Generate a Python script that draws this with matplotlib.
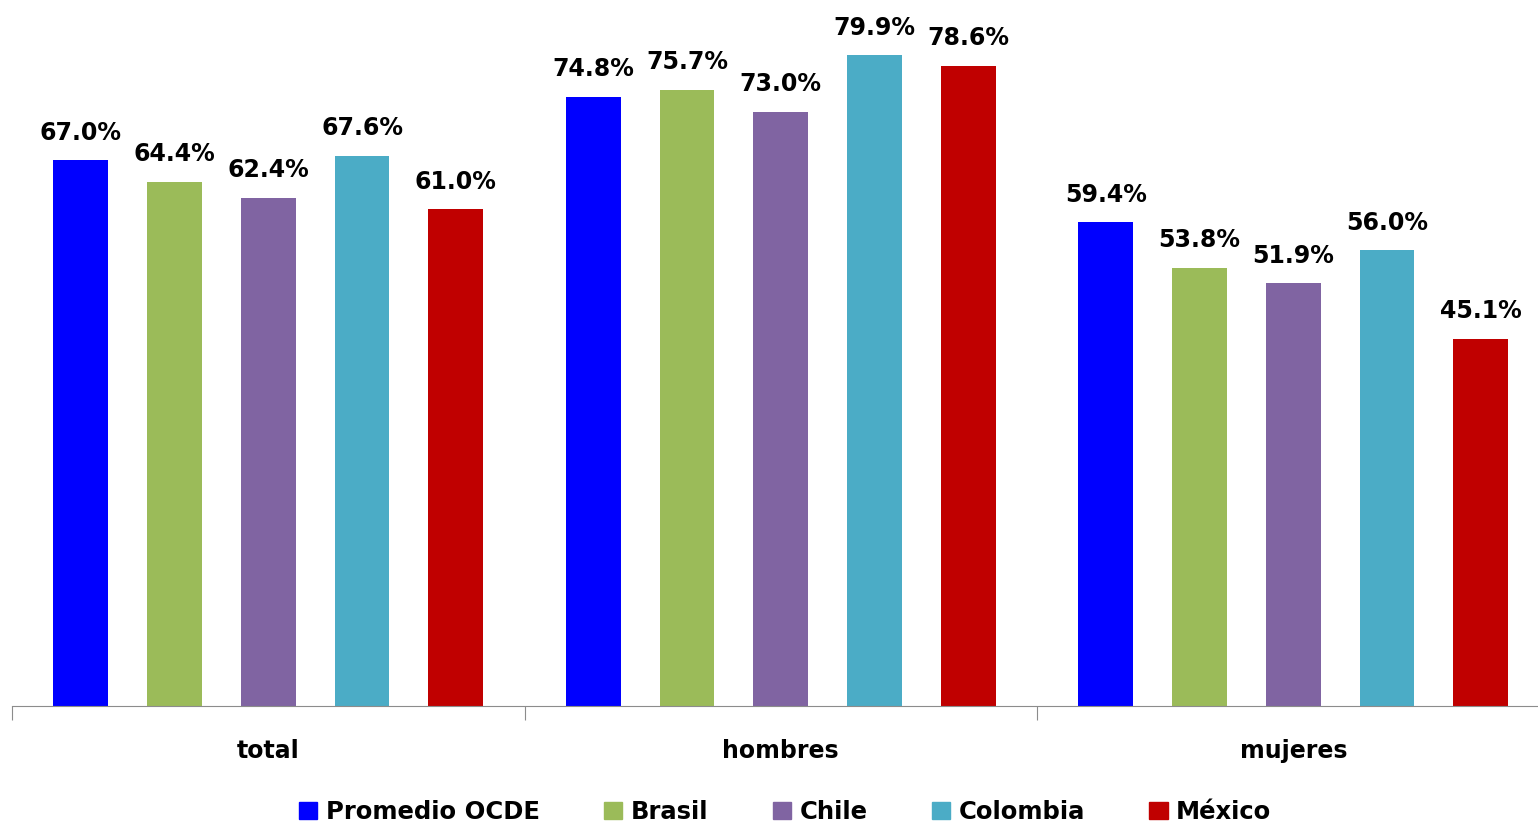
import numpy as np
import matplotlib.pyplot as plt
from matplotlib.patches import Patch

categorias = ["total", "hombres", "mujeres"]
paises = ["Promedio OCDE", "Brasil", "Chile", "Colombia", "México"]
colores = ["#0000FF", "#9BBB59", "#8064A2", "#4BACC6", "#C00000"]

ocde = [67.0, 74.8, 59.4]
brasil = [64.4, 75.7, 53.8]
chile = [62.4, 73.0, 51.9]
colombia = [67.6, 79.9, 56.0]
mexico = [61.0, 78.6, 45.1]
series = [ocde, brasil, chile, colombia, mexico]

plt.rcParams['font.family'] = ['DejaVu Sans']

fig = plt.figure(figsize=(15.38, 8.26), dpi=100)
# axis continues past the right edge of the picture, as in the original
ax = fig.add_axes([12 / 1538, 1 - 706 / 826, 1537.5 / 1538, 706 / 826])

x = np.arange(len(categorias))
paso = 0.183
ancho = 0.107
for i, (vals, col) in enumerate(zip(series, colores)):
    pos = x + (i - 2) * paso
    bars = ax.bar(pos, vals, width=ancho, color=col)
    for b, v in zip(bars, vals):
        ax.text(b.get_x() + b.get_width() / 2, v + 1.9, f"{v:.1f}%",
                ha='center', va='bottom', fontsize=17, fontweight='bold')

ax.set_xlim(-0.5, 2.5)
ax.set_ylim(0, 86.7)
ax.set_yticks([])
for s in ['top', 'right', 'left']:
    ax.spines[s].set_visible(False)
ax.spines['bottom'].set_color('#8c8c8c')
ax.set_xticks([-0.5, 0.5, 1.5, 2.5])
ax.set_xticklabels([])
ax.tick_params(axis='x', length=10, color='#8c8c8c', direction='out')
for xi, c in zip(x, categorias):
    ax.text(xi, -5.5, c, ha='center', va='center', fontsize=17,
            fontweight='bold', clip_on=False)

handles = [Patch(color=c, label=p) for c, p in zip(colores, paises)]
fig.legend(handles=handles, loc='center', bbox_to_anchor=(0.5105, 1 - 812 / 826),
           ncol=5, frameon=False, handlelength=0.75, handleheight=0.75,
           handletextpad=0.35, columnspacing=2.65,
           prop={'size': 17.5, 'weight': 'bold'})

fig.savefig('out.png', dpi=100)
